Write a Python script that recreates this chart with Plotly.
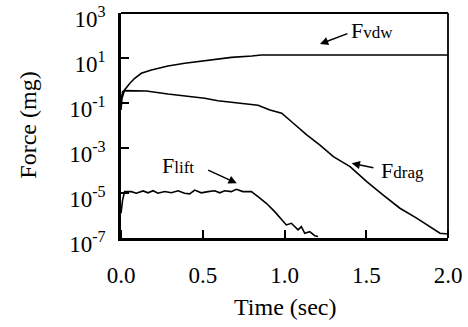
import plotly.graph_objects as go

# ---- data ----
t_vdw = [0.0, 0.006, 0.022, 0.053, 0.084, 0.124, 0.186, 0.287, 0.39, 0.512, 0.675, 0.80, 0.858, 2.0]
f_vdw = [0.049, 0.16, 0.38, 0.74, 1.26, 2.1, 2.95, 4.4, 5.8, 7.6, 10.7, 12.3, 13.5, 13.5]

t_drag = [0.0, 0.01, 0.02, 0.155, 0.287, 0.39, 0.512, 0.593, 0.695, 0.77, 0.838, 0.911, 0.983,
          1.054, 1.136, 1.217, 1.299, 1.401, 1.503, 1.604, 1.706, 1.808, 1.890, 1.951, 2.0]
f_drag = [0.135, 0.32, 0.355, 0.34, 0.25, 0.204, 0.162, 0.126, 0.102, 0.093, 0.079, 0.049, 0.035,
          0.0126, 3.8e-3, 1.35e-3, 4.1e-4, 1.48e-4, 3.2e-5, 8.1e-6, 2.1e-6, 7.6e-7, 3.2e-7, 1.62e-7, 1.51e-7]

t_lift = [0.0, 0.010, 0.022, 0.063, 0.094, 0.135, 0.165, 0.196, 0.226, 0.267, 0.308, 0.349, 0.389,
          0.420, 0.451, 0.491, 0.532, 0.573, 0.604, 0.634, 0.675, 0.705, 0.746, 0.797, 0.838, 0.889,
          0.940, 0.981, 1.011, 1.042, 1.062, 1.083, 1.103, 1.124, 1.154, 1.185, 1.205]
f_lift = [1.26e-6, 5e-6, 1.15e-5, 1.15e-5, 9.8e-6, 1.23e-5, 1.02e-5, 1.26e-5, 9.8e-6, 1.17e-5, 1.02e-5,
          1.26e-5, 9.8e-6, 9.1e-6, 1.35e-5, 1.02e-5, 1.15e-5, 1.26e-5, 1.02e-5, 1.26e-5, 1.15e-5, 1.45e-5,
          1.15e-5, 1.15e-5, 6.9e-6, 3.5e-6, 1.48e-6, 6.3e-7, 3.8e-7, 4.5e-7, 3.2e-7, 2.3e-7, 3.2e-7,
          1.62e-7, 1.9e-7, 1.26e-7, 1.17e-7]

x_ticks = [0.0, 0.5, 1.0, 1.5, 2.0]
x_ticktext = ["0.0", "0.5", "1.0", "1.5", "2.0"]
y_ticks = [1e-7, 1e-5, 1e-3, 1e-1, 1e1, 1e3]
y_ticktext = ["10<sup>-7</sup>", "10<sup>-5</sup>", "10<sup>-3</sup>", "10<sup>-1</sup>", "10<sup>1</sup>", "10<sup>3</sup>"]

FONT = "Liberation Serif"
TICKF = dict(family=FONT, size=23, color="black")
TITLEF = dict(family=FONT, size=24, color="black")
LABF = dict(family=FONT, size=22, color="black")
line = dict(color="black", width=1.6)

fig = go.Figure()
for tx, fy in [(t_vdw, f_vdw), (t_drag, f_drag), (t_lift, f_lift)]:
    fig.add_trace(go.Scatter(x=tx, y=fy, mode="lines", line=line, showlegend=False, hoverinfo="skip"))

fig.update_layout(
    width=468, height=327,
    margin=dict(l=121, r=20, t=13, b=89),
    paper_bgcolor="white", plot_bgcolor="white",
    font=TICKF,
    xaxis=dict(range=[0, 2.0], tickvals=x_ticks, ticktext=x_ticktext, tickfont=TICKF,
               ticks="outside", ticklen=15, tickwidth=1, tickcolor="rgba(0,0,0,0)",
               minor=dict(tickmode="array", tickvals=x_ticks, ticks="inside", ticklen=8,
                          tickwidth=1.5, tickcolor="black", showgrid=False),
               showline=True, linewidth=2.5, linecolor="black", showgrid=False, zeroline=False,
               automargin=False, ticklabeloverflow="allow"),
    yaxis=dict(type="log", range=[-7.0005, 3.0005], tickvals=y_ticks, ticktext=y_ticktext, tickfont=TICKF,
               ticks="inside", ticklen=8, tickwidth=1.5, tickcolor="black",
               showline=True, linewidth=2.5, linecolor="black", showgrid=False, zeroline=False,
               ticklabelstandoff=8, ticklabelshift=6, automargin=False, ticklabeloverflow="allow"),
)

# top / right frame
fig.add_shape(type="line", xref="paper", yref="paper", x0=0, x1=1, y0=1, y1=1, line=dict(color="black", width=1.8))
fig.add_shape(type="line", xref="paper", yref="paper", x0=1, x1=1, y0=0, y1=1, line=dict(color="black", width=1.8))

# axis titles
fig.add_annotation(text="Time (sec)", xref="paper", yref="paper", x=0.5, y=-0.307,
                   showarrow=False, xanchor="center", yanchor="middle", font=TITLEF)
fig.add_annotation(text="Force (mg)", xref="paper", yref="paper", x=-0.287, y=0.5, textangle=-90,
                   showarrow=False, xanchor="center", yanchor="middle", font=TITLEF)

# labels
def sublabel(name):
    return "F<span style='font-size:17px'>" + name + "</span>"

labels = [("vdw", 1.535, 2.24), ("drag", 1.719, -3.98), ("lift", 0.346, -3.76)]
for name, lx, ly in labels:
    fig.add_annotation(text=sublabel(name), x=lx, y=ly, xref="x", yref="y", showarrow=False,
                       xanchor="center", yanchor="middle", font=LABF)

arrows = [(1.217, 1.62, 1.394, 2.11), (1.411, -3.68, 1.553, -3.89), (0.708, -4.57, 0.524, -3.95)]
for hx, hy, tx, ty in arrows:
    fig.add_annotation(text="", x=hx, y=hy, ax=tx, ay=ty, xref="x", yref="y", axref="x", ayref="y",
                       showarrow=True, arrowhead=2, arrowsize=1.1, arrowwidth=1.5, arrowcolor="black",
                       standoff=0, startstandoff=0)

fig.write_html("out.html", config={"displayModeBar": False},
               post_script="document.body.style.margin='0';")
